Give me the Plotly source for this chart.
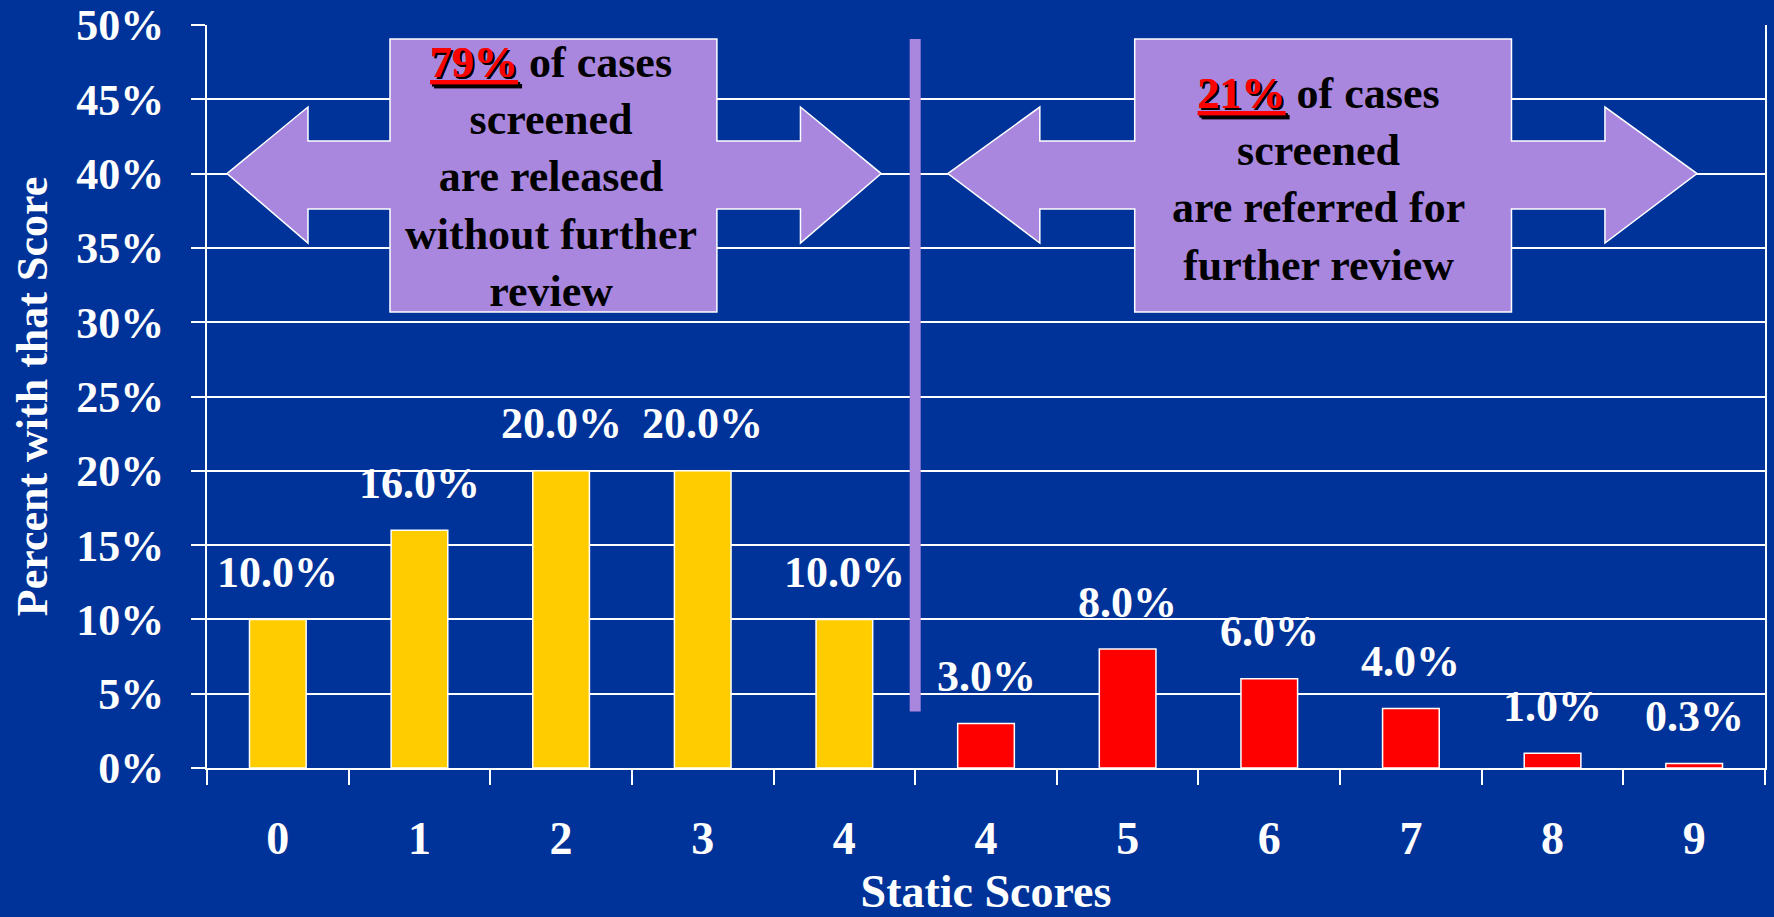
import plotly.graph_objects as go

# ---- data ----
score_labels = ["0", "1", "2", "3", "4", "4", "5", "6", "7", "8", "9"]
percent_values = [10.0, 16.0, 20.0, 20.0, 10.0, 3.0, 8.0, 6.0, 4.0, 1.0, 0.3]
bar_colors = ["#FFCC00"] * 5 + ["#FF0000"] * 6
y_tick_values = [0, 5, 10, 15, 20, 25, 30, 35, 40, 45, 50]
y_tick_labels = [f"{v}%" for v in y_tick_values]
RED_SPAN = "<span style='color:#FF0000;text-shadow:2px 2px 0px #000000'><u>{}</u></span>"
released_text = [RED_SPAN.format("79%") + " of cases", "screened",
                 "are released", "without further", "review"]
referred_text = [RED_SPAN.format("21%") + " of cases", "screened",
                 "are referred for", "further review"]

FONT = "Liberation Serif"
BG = "#003399"
LAV = "#A987DF"

positions = list(range(len(score_labels)))

fig = go.Figure()
fig.add_trace(go.Bar(
    x=positions, y=percent_values,
    marker=dict(color=bar_colors, line=dict(color="white", width=1.5)),
    width=0.4, showlegend=False, hoverinfo="skip",
))

# value labels above bars
for xv, yv in zip(positions, percent_values):
    fig.add_annotation(x=xv, y=yv, text=f"<b>{yv:.1f}%</b>", showarrow=False,
                       yanchor="middle", yshift=47,
                       font=dict(family=FONT, size=44, color="white"))


def double_arrow(tipL, baseL, boxL, boxR, baseR, tipR, boxTop, boxBot,
                 headTop, headBot, shaftTop, shaftBot, mid):
    pts = [(tipL, mid), (baseL, headTop), (baseL, shaftTop), (boxL, shaftTop),
           (boxL, boxTop), (boxR, boxTop), (boxR, shaftTop), (baseR, shaftTop),
           (baseR, headTop), (tipR, mid), (baseR, headBot), (baseR, shaftBot),
           (boxR, shaftBot), (boxR, boxBot), (boxL, boxBot), (boxL, shaftBot),
           (baseL, shaftBot), (baseL, headBot)]
    return "M " + " L ".join(f"{x},{y}" for x, y in pts) + " Z"


common = dict(boxTop=49.06, boxBot=30.69, headTop=44.48, headBot=35.33,
              shaftTop=42.19, shaftBot=37.62, mid=40.0)
fig.add_shape(type="path", xref="x", yref="y",
              path=double_arrow(-0.359, 0.213, 0.792, 3.10, 3.69, 4.26, **common),
              fillcolor=LAV, line=dict(color="white", width=1.5), layer="above")
fig.add_shape(type="path", xref="x", yref="y",
              path=double_arrow(4.73, 5.38, 6.05, 8.71, 9.37, 10.02, **common),
              fillcolor=LAV, line=dict(color="white", width=1.5), layer="above")

# divider
fig.add_shape(type="line", xref="x", yref="y", x0=4.5, x1=4.5, y0=3.8, y1=49.06,
              line=dict(color=LAV, width=11), layer="above")

fig.add_annotation(x=1.93, y=39.8, text="<b>" + "<br>".join(released_text) + "</b>",
                   showarrow=False, align="center",
                   font=dict(family=FONT, size=44, color="black"))
fig.add_annotation(x=7.35, y=39.6, text="<b>" + "<br>".join(referred_text) + "</b>",
                   showarrow=False, align="center",
                   font=dict(family=FONT, size=44, color="black"))

fig.update_layout(
    width=1774, height=917,
    margin=dict(l=207, r=9, t=25, b=149, autoexpand=False),
    paper_bgcolor=BG, plot_bgcolor=BG,
    font=dict(family=FONT, color="white", size=44),
    bargap=0.6,
)
fig.update_xaxes(
    range=[-0.5, 10.5], tickmode="array", tickvals=positions,
    ticktext=[f"<b>{s}</b>" for s in score_labels],
    ticks="", showgrid=False, zeroline=False, automargin=False,
    showline=True, linecolor="white", linewidth=2,
    ticklabelstandoff=29,
    tickfont=dict(family=FONT, size=46, color="white"),
    minor=dict(tickmode="linear", tick0=-0.5, dtick=1, ticks="outside",
               ticklen=15, tickwidth=2, tickcolor="white", showgrid=False),
    title=dict(text="<b>Static Scores</b>", standoff=28,
               font=dict(family=FONT, size=46, color="white")),
)
fig.update_yaxes(
    range=[0, 50], tickmode="array", tickvals=y_tick_values,
    ticktext=[f"<b>{t}</b>" for t in y_tick_labels],
    ticks="outside", ticklen=14, tickwidth=2, tickcolor="white",
    showgrid=True, gridcolor="white", gridwidth=2, zeroline=False,
    showline=True, linecolor="white", linewidth=2, mirror=True, automargin=False,
    ticklabelstandoff=18,
    tickfont=dict(family=FONT, size=44, color="white"),
    title=dict(text="<b>Percent with that Score</b>", standoff=15,
               font=dict(family=FONT, size=44, color="white")),
)

fig.write_html("out.html", config={"displayModeBar": False},
               post_script="document.body.style.margin='0';")
